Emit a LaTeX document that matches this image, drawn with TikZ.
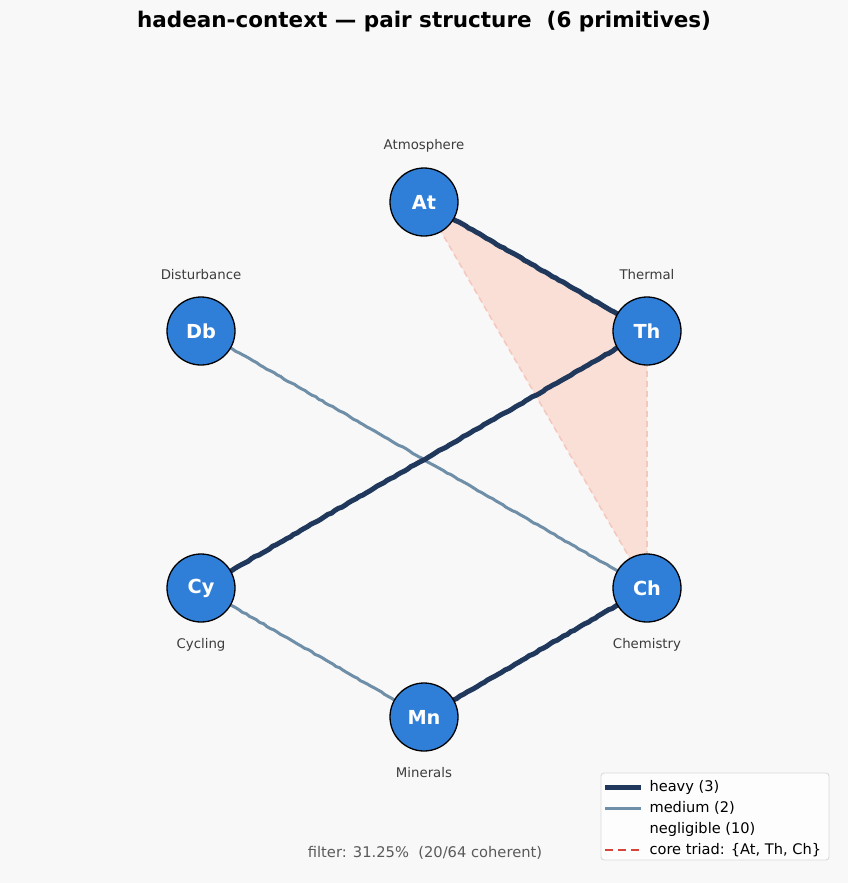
\documentclass[tikz,border=0pt]{standalone}
\usepackage{fontspec}
\usetikzlibrary{decorations.pathmorphing}
\setmainfont{DejaVu Sans}
\definecolor{bg}{RGB}{248,248,248}
\definecolor{nodeblue}{RGB}{47,127,216}
\definecolor{heavyc}{RGB}{31,56,92}
\definecolor{mediumc}{RGB}{111,143,168}
\definecolor{trifill}{RGB}{250,223,215}
\definecolor{tridash}{RGB}{245,200,190}
\definecolor{triadred}{RGB}{214,68,58}
\definecolor{labc}{RGB}{60,60,60}
\definecolor{filterc}{RGB}{90,90,90}
\tikzset{
  prim/.style={circle, draw=black, line width=1.3pt, fill=nodeblue, minimum size=68pt, inner sep=0pt,
    text=white, font=\fontsize{19.3}{21}\selectfont\bfseries},
  plabel/.style={text=labc, font=\fontsize{13.3}{15}\selectfont},
  wobble/.style={decorate, decoration={random steps, segment length=4pt, amplitude=0.45pt}},
  heavy/.style={draw=heavyc, line width=5pt, wobble},
  medium/.style={draw=mediumc, line width=3pt, wobble},
  triad/.style={draw=tridash, line width=1.6pt, dash pattern=on 6pt off 4pt},
  legtext/.style={anchor=west, font=\fontsize{14.6}{16}\selectfont, text=black},
}
\begin{document}
\begin{tikzpicture}[x=1pt,y=-1pt]
\pgfmathsetseed{7}
\fill[bg] (0,0) rectangle (848,883);
\useasboundingbox (0,0) rectangle (848,883);
\node[font=\fontsize{21.5}{24}\selectfont\bfseries] (title) at (424,22) {hadean-context — pair structure \ (6 primitives)};
% coordinates
\coordinate (pAt) at (424,202);
\coordinate (pTh) at (647,331);
\coordinate (pCh) at (647,588);
\coordinate (pMn) at (424,717);
\coordinate (pCy) at (201,588);
\coordinate (pDb) at (201,331);
% triad fill
\fill[trifill] (pAt) -- (pTh) -- (pCh) -- cycle;
\draw[triad] (pAt) -- (pTh);
\draw[triad] (pTh) -- (pCh);
\draw[triad] (pAt) -- (pCh);
% edges
\draw[medium] (pDb) -- (pCh);
\draw[medium] (pCy) -- (pMn);
\draw[heavy] (pAt) -- (pTh);
\draw[heavy] (pTh) -- (pCy);
\draw[heavy] (pCh) -- (pMn);
% nodes
\node[prim] (At) at (pAt) {At};
\node[prim] (Th) at (pTh) {Th};
\node[prim] (Ch) at (pCh) {Ch};
\node[prim] (Mn) at (pMn) {Mn};
\node[prim] (Cy) at (pCy) {Cy};
\node[prim] (Db) at (pDb) {Db};
% labels
\node[plabel] (lAt) at (424,146) {Atmosphere};
\node[plabel] (lTh) at (647,275) {Thermal};
\node[plabel] (lDb) at (201,275) {Disturbance};
\node[plabel] (lCy) at (201,645) {Cycling};
\node[plabel] (lCh) at (647,645) {Chemistry};
\node[plabel] (lMn) at (424,773) {Minerals};
% filter
\node[font=\fontsize{14.7}{16}\selectfont, text=filterc] (filter) at (425,853) {filter: 31.25\% \ (20/64 coherent)};
% legend
\draw[draw=black!15, fill=white, fill opacity=0.8, rounded corners=3pt, line width=0.9pt] (601,773) rectangle (829,860);
\coordinate (l1a) at (605,787); \coordinate (l1b) at (641,787);
\coordinate (l2a) at (605,808); \coordinate (l2b) at (641,808);
\coordinate (l4a) at (605,850); \coordinate (l4b) at (641,850);
\draw[draw=heavyc, line width=5pt] (l1a) -- (l1b);
\draw[draw=mediumc, line width=3pt] (l2a) -- (l2b);
\draw[draw=triadred, line width=2pt, dash pattern=on 8pt off 5pt] (l4a) -- (l4b);
\node[legtext] (g1) at (646,787) {heavy (3)};
\node[legtext] (g2) at (646,808) {medium (2)};
\node[legtext] (g3) at (646,829) {negligible (10)};
\node[legtext] (g4) at (646,850) {core triad: \{At, Th, Ch\}};
\end{tikzpicture}
\end{document}
